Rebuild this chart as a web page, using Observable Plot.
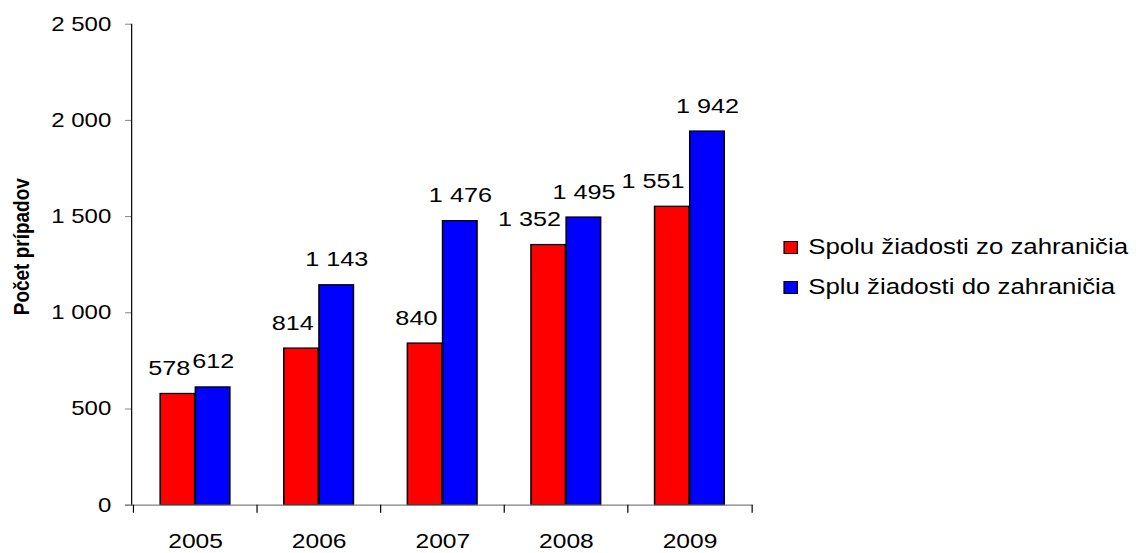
<!DOCTYPE html>
<html>
<head>
<meta charset="utf-8">
<script src="https://cdn.jsdelivr.net/npm/d3@7"></script>
<script src="https://cdn.jsdelivr.net/npm/@observablehq/plot@0.6"></script>
<style>
  html, body { margin: 0; padding: 0; background: #fff; overflow: hidden; }
  #wrap { position: relative; width: 953.33px; height: 553px; transform: scaleX(1.2); transform-origin: 0 0;
          font-family: Arial, "Liberation Sans", sans-serif; }
  #legend { position: absolute; left: 653px; top: 227px; font-size: 21.5px; color: #000; }
  .item { display: flex; align-items: center; height: 40px; }
  .sw { width: 9.5px; height: 11px; border: 1.2px solid #000; margin-right: 9px; flex: none; }
</style>
</head>
<body>
<div id="wrap"><div id="chart"></div><div id="legend"></div></div>
<script>
const years = ["2005", "2006", "2007", "2008", "2009"];
const zoZahranicia = [578, 814, 840, 1352, 1551];
const doZahranicia = [612, 1143, 1476, 1495, 1942];
const seriesNames = ["Spolu žiadosti zo zahraničia", "Splu žiadosti do zahraničia"];
const seriesColors = ["#FF0000", "#0000FF"];
const yTicks = [0, 500, 1000, 1500, 2000, 2500];
const yTitle = "Počet prípadov";

const fmt = d3.formatLocale({decimal: ",", thousands: "\u00a0", grouping: [3], currency: ["", ""]}).format(",");

const W = 953.33, H = 553;
const mL = 109.2, mR = W - 627.2, mT = 23.7, mB = H - 504.7;
const step = (W - mL - mR) / years.length;
const gap = 0.217 * step;
const barW = (step - 2 * gap) / 2;

const red = years.map((y, i) => ({year: y, value: zoZahranicia[i]}));
const blue = years.map((y, i) => ({year: y, value: doZahranicia[i]}));

const plot = Plot.plot({
  width: W, height: H,
  marginLeft: mL, marginRight: mR, marginTop: mT, marginBottom: mB,
  style: {fontFamily: 'Arial, "Liberation Sans", sans-serif', color: "#000", background: "#fff"},
  x: {type: "band", domain: years, padding: 0, axis: null},
  y: {domain: [0, 2500], axis: null},
  marks: [
    Plot.barY(red, {x: "year", y: "value", fill: seriesColors[0], stroke: "#000", strokeWidth: 1.3,
      insetLeft: gap, insetRight: gap + barW}),
    Plot.barY(blue, {x: "year", y: "value", fill: seriesColors[1], stroke: "#000", strokeWidth: 1.3,
      insetLeft: gap + barW, insetRight: gap}),
    Plot.frame({anchor: "left", stroke: "#000"}),
    Plot.ruleY([0], {stroke: "#808080", strokeWidth: 1.2, insetLeft: -5}),
    Plot.axisY(yTicks, {tickSize: 5, tickPadding: 12, fontSize: 20, tickFormat: fmt, stroke: "#808080", fill: "#000", label: null}),
    Plot.axisX({tickSize: 0, tickPadding: 28, fontSize: 20.5, label: null}),
    Plot.axisX(years, {tickSize: 8, tickFormat: () => "", dx: -step / 2, label: null}),
    Plot.axisX([years[years.length - 1]], {tickSize: 8, tickFormat: () => "", dx: step / 2, label: null}),
    Plot.text(red, {x: "year", y: "value", text: d => fmt(d.value), textAnchor: "end", lineAnchor: "bottom",
      dx: -4.5, dy: -19, fontSize: 21, fill: "#000"}),
    Plot.text(blue, {x: "year", y: "value", text: d => fmt(d.value), textAnchor: "middle", lineAnchor: "bottom",
      dx: barW / 2, dy: -19, fontSize: 21, fill: "#000"}),
    Plot.text([yTitle], {frameAnchor: "left", rotate: -90, dx: -91.3, dy: -18, fontSize: 19, fontWeight: "bold",
      textAnchor: "middle", lineAnchor: "middle", fill: "#000"})
  ]
});
document.getElementById("chart").appendChild(plot);

const legend = document.getElementById("legend");
seriesNames.forEach((name, i) => {
  const item = document.createElement("div");
  item.className = "item";
  const sw = document.createElement("span");
  sw.className = "sw";
  sw.style.background = seriesColors[i];
  const t = document.createElement("span");
  t.textContent = name;
  item.appendChild(sw);
  item.appendChild(t);
  legend.appendChild(item);
});
</script>
</body>
</html>
